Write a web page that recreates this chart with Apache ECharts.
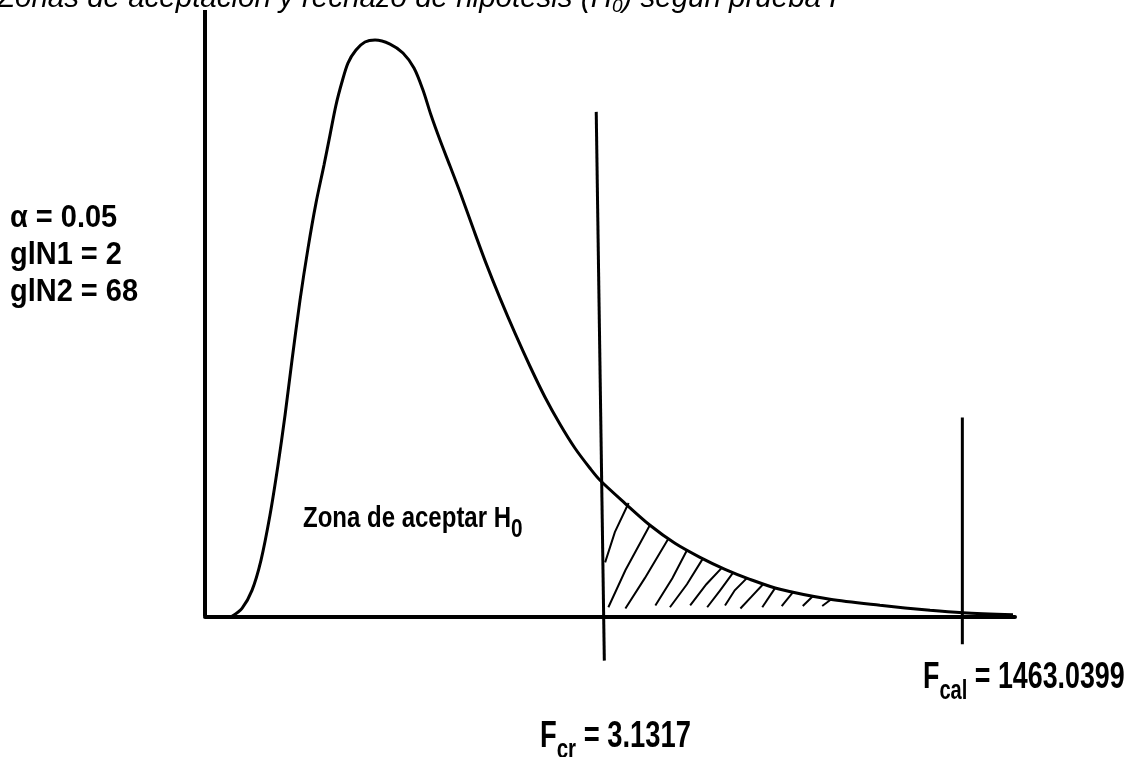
<!DOCTYPE html>
<html>
<head>
<meta charset="utf-8">
<script src="https://cdn.jsdelivr.net/npm/echarts@6/dist/echarts.min.js"></script>
<style>
  html, body { margin: 0; padding: 0; background: #fff; }
  #chart { width: 1132px; height: 757px; }
</style>
</head>
<body>
<div id="chart"></div>
<script>
// Schematic F distribution: x runs 0–100 along the axis, y is curve height 0–100.
const curveX = [3.33, 4.57, 5.80, 6.91, 8.02, 9.01, 9.88, 10.74, 11.73, 12.72, 13.70, 14.69,
  15.43, 16.17, 16.91, 17.65, 18.64, 19.75, 20.99,
  22.84, 24.44, 25.80, 26.91, 27.90, 29.01, 30.25, 31.48, 33.09, 34.69, 36.42, 38.27,
  40.12, 41.98, 43.83, 45.68, 47.53, 48.77, 51.85, 54.94, 58.02, 61.11, 64.20, 67.28,
  70.99, 77.16, 83.33, 89.51, 93.58, 99.75];
const curveY = [0, 1.32, 4.29, 9.24, 16.67, 24.92, 33.17, 42.24, 52.15, 60.73, 68.15, 74.42,
  79.37, 84.32, 88.12, 91.25, 93.40, 94.72, 95.05,
  94.39, 92.90, 90.43, 86.80, 82.67, 78.55, 74.26, 69.97, 64.03, 58.25, 52.48, 46.70,
  41.25, 36.14, 31.68, 27.72, 24.42, 22.44, 18.65, 15.02, 12.05, 9.74, 7.76, 6.11,
  4.46, 2.81, 1.82, 0.99, 0.58, 0.25];

// Vertical axis and the two reference lines (critical and calculated F)
const axisYLine = [[0, 0], [0, 100]];
const fCritLine = [[48.3, 83.2], [49.3, -7.3]];
const fCalLine = [[93.5, 32.8], [93.5, -4.6]];

// Hand-drawn hatching of the rejection region
const hatchStrokes = [
  [[49.4, 8.9], [50.6, 13.9], [52.3, 18.7]],
  [[49.8, 1.5], [51.9, 7.6], [54.9, 15.0]],
  [[51.9, 1.3], [54.3, 6.3], [57.2, 12.8]],
  [[55.6, 1.8], [57.7, 6.3], [59.5, 10.9]],
  [[57.4, 1.5], [59.5, 5.3], [61.5, 9.6]],
  [[59.9, 1.8], [61.9, 5.3], [63.8, 8.0]],
  [[62.0, 1.5], [63.6, 4.3], [65.2, 7.2]],
  [[64.2, 1.8], [65.4, 4.3], [66.9, 6.3]],
  [[66.1, 1.3], [67.5, 3.3], [68.9, 5.3]],
  [[68.8, 1.5], [70.4, 4.7]],
  [[71.2, 1.7], [72.6, 4.0]],
  [[73.8, 1.7], [75.1, 3.4]],
  [[76.2, 1.7], [77.4, 2.9]]
];

const paramLabels = ['α = 0.05', 'glN1 = 2', 'glN2 = 68'];
const titleText = 'Zonas de aceptación y rechazo de hipótesis (H{sub|0}) según prueba F';
const acceptText = '{m|Zona de aceptar H}{s|0}';
const fCritText = '{m|F}{s|cr}{m| = 3.1317}';
const fCalText = '{m|F}{s|cal}{m| = 1463.0399}';

const NARROW = '"Liberation Sans Narrow", "Arial Narrow", "Liberation Sans", Arial, sans-serif';
const SANS = '"Liberation Sans", Arial, sans-serif';

const chart = echarts.init(document.getElementById('chart'), null, { renderer: 'canvas' });

const blackLine = (data, width) => ({
  type: 'line',
  data: data,
  symbol: 'none',
  silent: true,
  lineStyle: { color: '#000', width: width }
});

const subRich = (mainSize, subSize, pad) => ({
  m: { fontSize: mainSize, fontWeight: 'bold', fontFamily: NARROW, fill: '#000' },
  s: { fontSize: subSize, fontWeight: 'bold', fontFamily: NARROW, fill: '#000', padding: [pad, 0, 0, 0] }
});

chart.setOption({
  backgroundColor: '#fff',
  animation: false,
  grid: { left: 205, right: 117, top: 10, bottom: 80 },
  xAxis: {
    type: 'value', min: 0, max: 100,
    axisLine: { onZero: true, lineStyle: { color: '#000', width: 4 } },
    axisTick: { show: false }, axisLabel: { show: false }, splitLine: { show: false }
  },
  yAxis: {
    type: 'value', min: -10, max: 100, show: false
  },
  series: [
    Object.assign(blackLine(curveX.map((x, i) => [x, curveY[i]]), 3), { smooth: 0.3 }),
    blackLine(axisYLine, 4),
    blackLine(fCritLine, 3),
    blackLine(fCalLine, 3),
    {
      type: 'lines',
      coordinateSystem: 'cartesian2d',
      polyline: true,
      silent: true,
      lineStyle: { color: '#000', width: 2, opacity: 1 },
      data: hatchStrokes.map(c => ({ coords: c }))
    }
  ],
  graphic: [
    {
      type: 'text', x: -3, y: 16,
      style: {
        text: titleText,
        fontSize: 29.5, fontStyle: 'italic', fontFamily: SANS, fill: '#000',
        verticalAlign: 'bottom',
        rich: { sub: { fontSize: 19, fontStyle: 'italic', fontFamily: SANS, fill: '#000', padding: [16, 0, 0, 0] } }
      }
    },
    ...paramLabels.map((t, i) => ({
      type: 'text', x: 10, y: 219 + i * 37, scaleX: 0.95,
      style: {
        text: t, fontSize: 30.5, fontWeight: 'bold', fontFamily: NARROW, fill: '#000',
        verticalAlign: 'middle'
      }
    })),
    {
      type: 'text', x: 303, y: 519, scaleX: 0.8,
      style: { text: acceptText, rich: subRich(30, 26, 22), verticalAlign: 'middle' }
    },
    {
      type: 'text', x: 540, y: 737, scaleX: 0.76,
      style: { text: fCritText, rich: subRich(36, 27, 28), verticalAlign: 'middle' }
    },
    {
      type: 'text', x: 923, y: 678, scaleX: 0.745,
      style: { text: fCalText, rich: subRich(36, 27, 28), verticalAlign: 'middle' }
    }
  ]
});
</script>
</body>
</html>
